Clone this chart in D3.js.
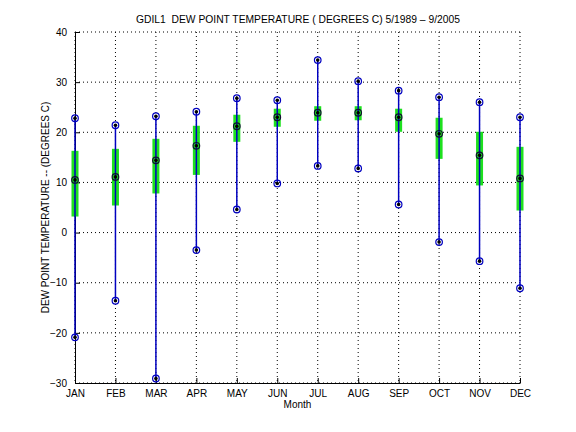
<!DOCTYPE html>
<html><head><meta charset="utf-8">
<script src="https://cdn.jsdelivr.net/npm/d3@7"></script>
<style>body{margin:0;background:#fff}svg{display:block}text{font-family:"Liberation Sans",Arial,sans-serif;white-space:pre}</style>
</head><body><svg id="c" width="576" height="432"></svg>
<script>
const months = ["JAN","FEB","MAR","APR","MAY","JUN","JUL","AUG","SEP","OCT","NOV","DEC"];
const maxVals  = [22.8, 21.4, 23.2, 24.1, 26.8, 26.4, 34.4, 30.2, 28.3, 27.0, 26.0, 23.0];
const meanVals = [10.5, 11.1, 14.4, 17.3, 21.2, 23.0, 23.9, 23.9, 23.0, 19.7, 15.4, 10.8];
const minVals  = [-20.9, -13.6, -29.1, -3.5, 4.6, 9.8, 13.3, 12.8, 5.6, -1.9, -5.7, -11.1];
const boxHigh  = [16.3, 16.7, 18.7, 21.3, 23.5, 24.7, 25.2, 25.2, 24.7, 22.9, 20.1, 17.1];
const boxLow   = [3.2, 5.4, 7.8, 11.5, 18.1, 21.1, 22.3, 22.4, 20.1, 14.7, 9.4, 4.4];
const yTicks = [-30,-20,-10,0,10,20,30,40];
const titleText = "GDIL1  DEW POINT TEMPERATURE ( DEGREES C) 5/1989 \u2013 9/2005";
const yLabel = "DEW POINT TEMPERATURE -- (DEGREES C)";
const xLabel = "Month";

const svg = d3.select("#c");
const L=75, R=520, T=32, B=383;
const x = d3.scalePoint().domain(months).range([L,R]);
const y = d3.scaleLinear().domain([-30,40]).range([B,T]);
const g = svg.append("g");

// grid
g.selectAll(".gx").data(months).enter().append("line")
 .attr("x1",d=>x(d)).attr("x2",d=>x(d)).attr("y1",T).attr("y2",B)
 .attr("stroke","#000").attr("stroke-width",1).attr("stroke-dasharray","1,3");
g.selectAll(".gy").data(yTicks).enter().append("line")
 .attr("x1",L).attr("x2",R).attr("y1",d=>y(d)).attr("y2",d=>y(d))
 .attr("stroke","#000").attr("stroke-width",1).attr("stroke-dasharray","1,3");

// axes
const ax = d3.axisLeft(y).tickValues(yTicks).tickSizeInner(-5).tickSizeOuter(0).tickPadding(8);
const ya = svg.append("g").attr("transform",`translate(${L},0)`).call(ax);
ya.select(".domain").attr("stroke","#000");
ya.selectAll("text").attr("font-size",10).attr("fill","#000");
const bx = d3.axisBottom(x).tickSizeInner(-5).tickSizeOuter(0).tickPadding(7);
const xa = svg.append("g").attr("transform",`translate(0,${B})`).call(bx);
xa.select(".domain").attr("stroke","#000");
xa.selectAll("text").attr("font-size",10).attr("fill","#000");

// data
const data = months.map((m,i)=>({m,max:maxVals[i],mean:meanVals[i],min:minVals[i],hi:boxHigh[i],lo:boxLow[i]}));
const dg = svg.append("g");
dg.selectAll(".box").data(data).enter().append("rect")
 .attr("x",d=>x(d.m)-3.5).attr("width",7)
 .attr("y",d=>y(d.hi)).attr("height",d=>y(d.lo)-y(d.hi))
 .attr("fill","#1ee01e");
dg.selectAll(".vl").data(data).enter().append("line")
 .attr("x1",d=>x(d.m)).attr("x2",d=>x(d.m)).attr("y1",d=>y(d.max)).attr("y2",d=>y(d.min))
 .attr("stroke","#0000c0").attr("stroke-width",1.5);
const pts = [];
data.forEach(d=>{pts.push({m:d.m,v:d.max,c:"#0000c0"});pts.push({m:d.m,v:d.min,c:"#0000c0"});pts.push({m:d.m,v:d.mean,c:"#101030"});});
dg.selectAll(".pc").data(pts).enter().append("circle")
 .attr("cx",d=>x(d.m)).attr("cy",d=>y(d.v)).attr("r",3.3)
 .attr("fill","none").attr("stroke",d=>d.c).attr("stroke-width",1.2);
dg.selectAll(".pd").data(pts).enter().append("circle")
 .attr("cx",d=>x(d.m)).attr("cy",d=>y(d.v)).attr("r",1.8)
 .attr("fill","#000");

// labels
svg.append("text").attr("x",298).attr("y",23).attr("text-anchor","middle").attr("font-size",10.3).text(titleText);
svg.append("text").attr("transform",`translate(49,${(T+B)/2}) rotate(-90)`).attr("text-anchor","middle").attr("font-size",10).text(yLabel);
svg.append("text").attr("x",(L+R)/2).attr("y",408).attr("text-anchor","middle").attr("font-size",10).text(xLabel);
</script></body></html>
